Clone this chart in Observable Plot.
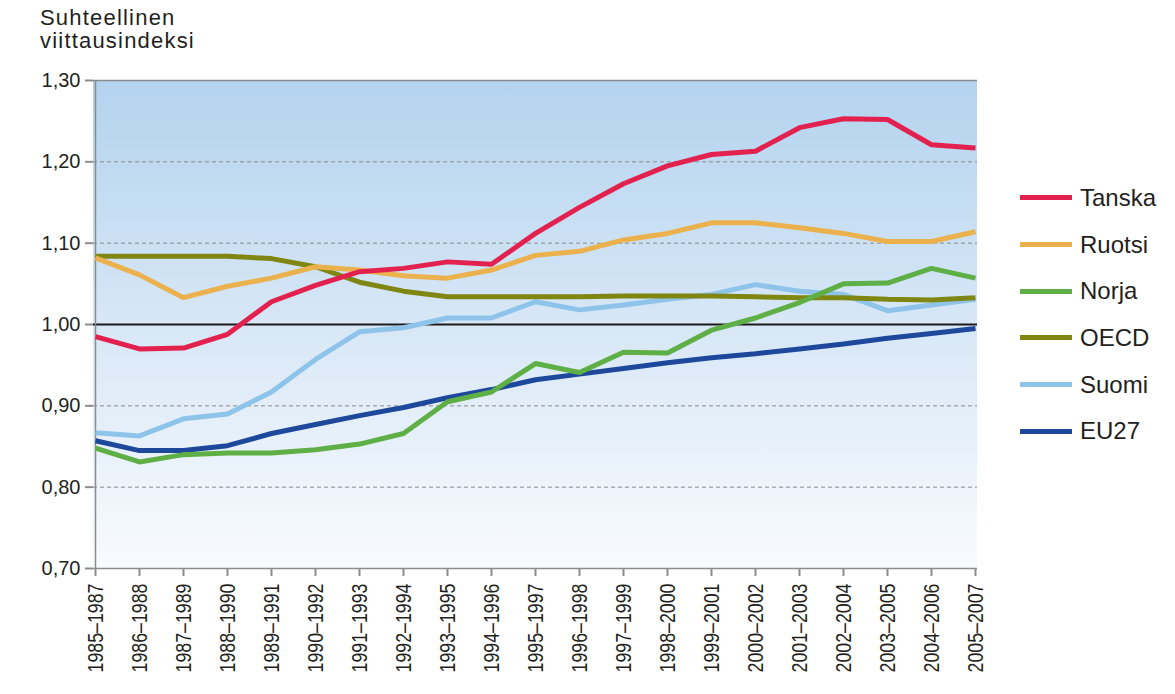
<!DOCTYPE html>
<html>
<head>
<meta charset="utf-8">
<script src="https://cdn.jsdelivr.net/npm/d3@7"></script>
<script src="https://cdn.jsdelivr.net/npm/@observablehq/plot@0.6"></script>
<style>
  body { margin: 0; background: #ffffff; }
  #wrap { position: relative; width: 1175px; height: 694px; overflow: hidden; }
  #title { position: absolute; left: 40px; top: 6px; font-family: "Liberation Sans", Arial, sans-serif; font-size: 22px; line-height: 23px; color: #231f20; letter-spacing: 1.2px; }
  #legend { position: absolute; left: 1020px; top: 0; width: 155px; height: 694px; }
  .lg-line { position: absolute; left: 0; width: 52px; height: 5px; }
  .lg-text { position: absolute; left: 60px; font-family: "Liberation Sans", Arial, sans-serif; font-size: 24px; line-height: 24px; color: #231f20; white-space: nowrap; }
  #chart { position: absolute; left: 0; top: 0; }
</style>
</head>
<body>
<div id="wrap">
  <div id="chart"></div>
  <div id="title">Suhteellinen<br>viittausindeksi</div>
  <div id="legend"></div>
</div>
<script>
// ---- Data ----
const periods = ["1985–1987","1986–1988","1987–1989","1988–1990","1989–1991","1990–1992","1991–1993",
  "1992–1994","1993–1995","1994–1996","1995–1997","1996–1998","1997–1999","1998–2000","1999–2001",
  "2000–2002","2001–2003","2002–2004","2003–2005","2004–2006","2005–2007"];

const seriesNames = ["Tanska", "Ruotsi", "Norja", "OECD", "Suomi", "EU27"];
const seriesColors = ["#e2214f", "#ebb14c", "#5daf46", "#7f8712", "#8ec4ea", "#1d489b"];

const tanska = [0.985, 0.970, 0.971, 0.988, 1.028, 1.048, 1.065, 1.069, 1.077, 1.074, 1.112, 1.144, 1.173, 1.195, 1.209, 1.213, 1.242, 1.253, 1.252, 1.221, 1.217];
const ruotsi = [1.082, 1.061, 1.033, 1.047, 1.057, 1.071, 1.067, 1.060, 1.057, 1.067, 1.085, 1.090, 1.104, 1.112, 1.125, 1.125, 1.119, 1.112, 1.102, 1.102, 1.114];
const norja  = [0.848, 0.831, 0.840, 0.842, 0.842, 0.846, 0.853, 0.866, 0.905, 0.917, 0.952, 0.941, 0.966, 0.965, 0.993, 1.008, 1.027, 1.050, 1.051, 1.069, 1.057];
const oecd   = [1.084, 1.084, 1.084, 1.084, 1.081, 1.071, 1.052, 1.041, 1.034, 1.034, 1.034, 1.034, 1.035, 1.035, 1.035, 1.034, 1.033, 1.033, 1.031, 1.030, 1.033];
const suomi  = [0.867, 0.863, 0.884, 0.890, 0.917, 0.957, 0.991, 0.996, 1.008, 1.008, 1.028, 1.018, 1.024, 1.031, 1.037, 1.049, 1.041, 1.037, 1.017, 1.024, 1.031];
const eu27   = [0.857, 0.845, 0.845, 0.851, 0.866, 0.877, 0.888, 0.898, 0.910, 0.920, 0.932, 0.939, 0.946, 0.953, 0.959, 0.964, 0.970, 0.976, 0.983, 0.989, 0.995];

const yTicks = [0.70, 0.80, 0.90, 1.00, 1.10, 1.20, 1.30];
const gridDashed = [0.80, 0.90, 1.10, 1.20];
const refLine = [1.00];
const yDomain = [0.70, 1.30];

// ---- Build table ----
const seriesValues = [tanska, ruotsi, norja, oecd, suomi, eu27];
const drawOrder = [5, 4, 3, 2, 1, 0];
const rows = drawOrder.flatMap(i => periods.map((p, j) => ({period: p, value: seriesValues[i][j], series: seriesNames[i]})));

const fmt = d => d.toFixed(2).replace(".", ",");

// gradient background of the plot area
const background = (index, scales, values, dims) => {
  const g = d3.create("svg:g");
  const lg = g.append("defs").append("linearGradient")
    .attr("id", "bgGrad").attr("x1", 0).attr("y1", 0).attr("x2", 0).attr("y2", 1);
  lg.append("stop").attr("offset", "0%").attr("stop-color", "#b3d3ee");
  lg.append("stop").attr("offset", "55%").attr("stop-color", "#dbe9f7");
  lg.append("stop").attr("offset", "100%").attr("stop-color", "#f8fbfe");
  const x0 = dims.marginLeft, x1 = dims.width - dims.marginRight;
  const y0 = scales.y(yDomain[1]), y1 = scales.y(yDomain[0]);
  g.append("rect").attr("x", x0).attr("y", y0).attr("width", x1 - x0).attr("height", y1 - y0).attr("fill", "url(#bgGrad)");
  return g.node();
};

const chart = Plot.plot({
  width: 1175,
  height: 694,
  marginLeft: 93,
  marginRight: 198,
  marginTop: 80,
  marginBottom: 126,
  style: {fontFamily: "'Liberation Sans', Arial, sans-serif", background: "transparent", color: "#231f20", overflow: "visible"},
  x: {type: "point", domain: periods, padding: 0},
  y: {domain: yDomain},
  color: {domain: seriesNames, range: seriesColors},
  marks: [
    background,
    Plot.ruleY(gridDashed, {stroke: "#8a8a8a", strokeWidth: 1, strokeDasharray: "4,3"}),
    Plot.ruleY([yDomain[1]], {stroke: "#8c8c8c", strokeWidth: 1.5}),
    Plot.ruleY(refLine, {stroke: "#1a1a1a", strokeWidth: 2}),
    Plot.ruleX([periods[0]], {stroke: "#8c8c8c", strokeWidth: 1.5}),
    Plot.ruleY([yDomain[0]], {stroke: "#8c8c8c", strokeWidth: 1.5}),
    Plot.line(rows, {x: "period", y: "value", z: "series", stroke: "series", strokeWidth: 5, strokeLinejoin: "miter", strokeLinecap: "butt"}),
    Plot.axisY({ticks: yTicks, tickFormat: fmt, tickSize: 8, tickPadding: 5, stroke: "#8c8c8c", strokeWidth: 2, fill: "#231f20", fontSize: 20, label: null}),
    Plot.axisX({tickSize: 8, tickPadding: 7, tickRotate: -90, stroke: "#8c8c8c", strokeWidth: 2, fill: "#231f20", fontSize: 22, label: null})
  ]
});
document.getElementById("chart").appendChild(chart);

// condense the rotated period labels to the narrow look of the original
d3.select(chart).selectAll('g[aria-label="x-axis tick label"] text')
  .attr("textLength", 89)
  .attr("lengthAdjust", "spacingAndGlyphs");

// ---- Legend ----
const legend = document.getElementById("legend");
seriesNames.forEach((name, i) => {
  const cy = 197.7 + i * 46.67;
  const line = document.createElement("div");
  line.className = "lg-line";
  line.style.top = (cy - 2.5) + "px";
  line.style.background = seriesColors[i];
  legend.appendChild(line);
  const t = document.createElement("div");
  t.className = "lg-text";
  t.style.top = (cy - 11.7) + "px";
  t.textContent = name;
  legend.appendChild(t);
});
</script>
</body>
</html>
